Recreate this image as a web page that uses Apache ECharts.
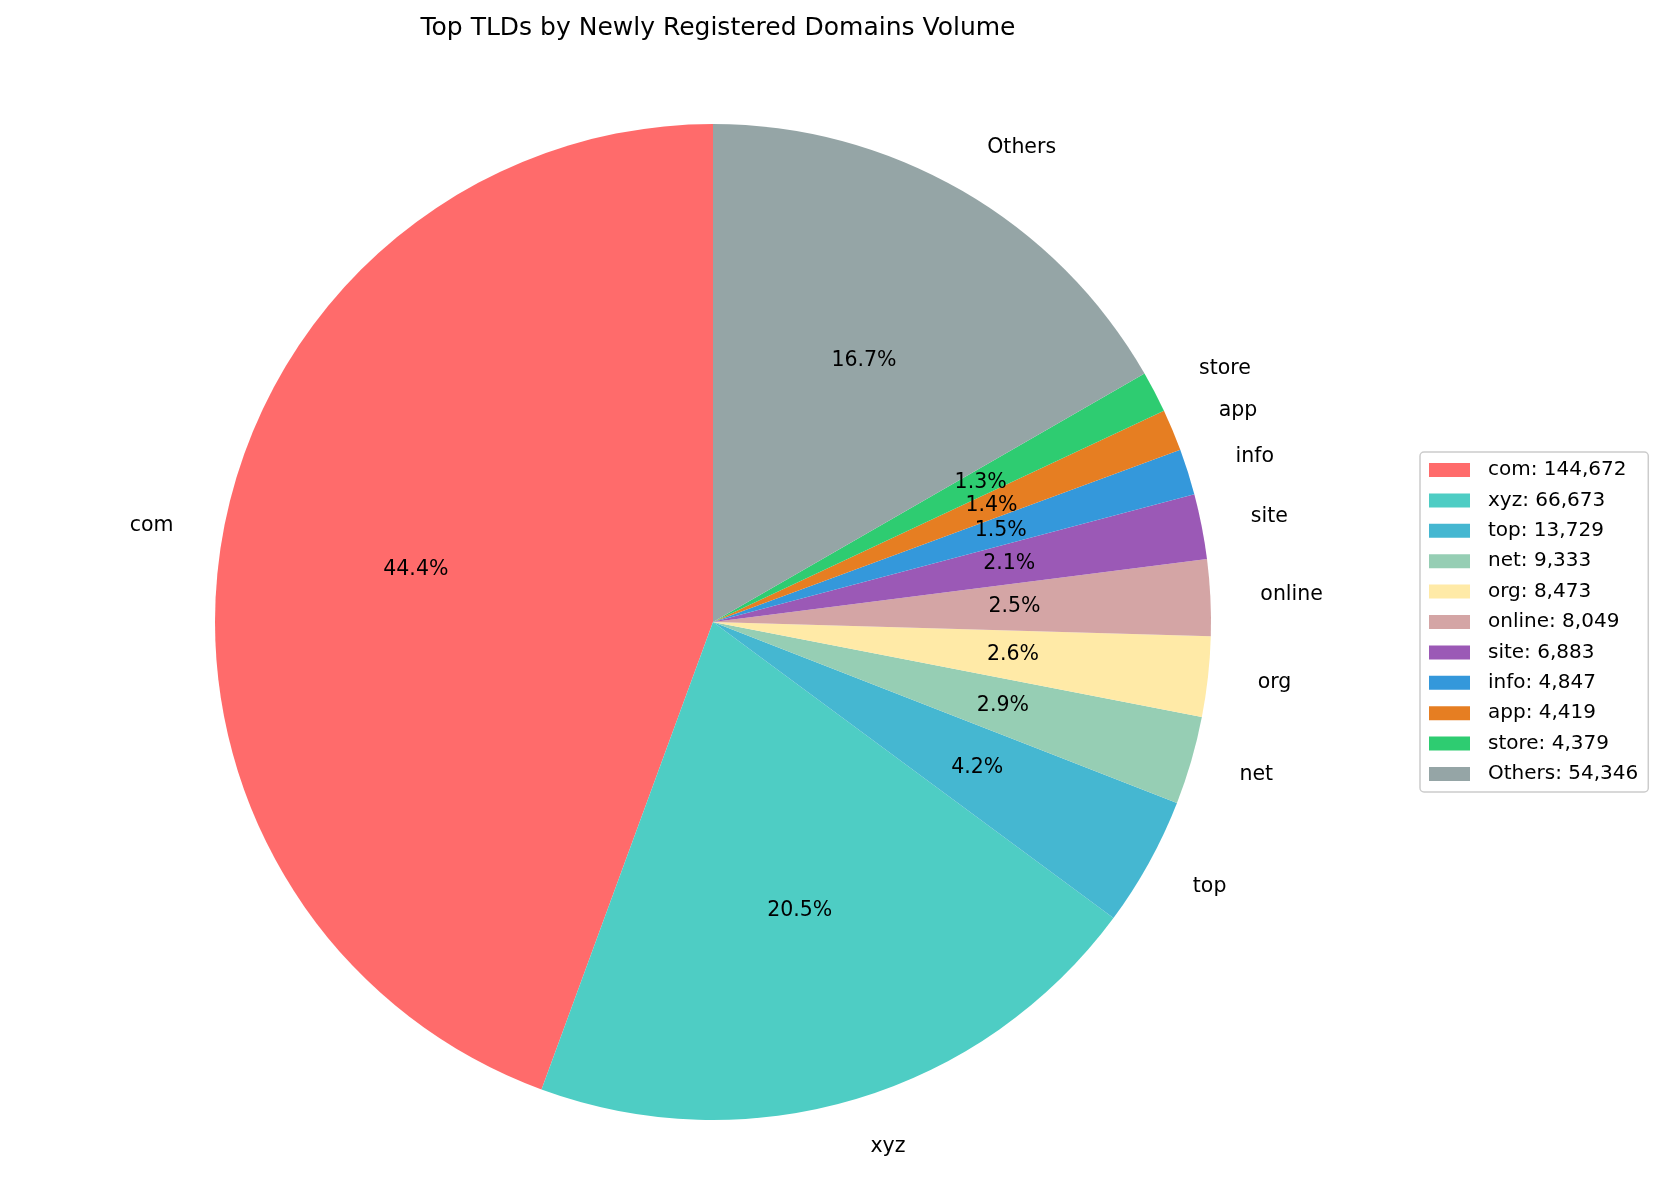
<!DOCTYPE html>
<html><head><meta charset="utf-8">
<script src="https://cdn.jsdelivr.net/npm/echarts@6/dist/echarts.min.js"></script>
<style>html,body{margin:0;padding:0;background:#fff}#c{width:1667px;height:1185px}</style>
</head><body><div id="c"></div>
<script>
const categories = ['com','xyz','top','net','org','online','site','info','app','store','Others'];
const values = [144672,66673,13729,9333,8473,8049,6883,4847,4419,4379,54346];
const colors = ['#FF6B6B','#4ECDC4','#45B7D1','#96CEB4','#FFEAA7','#D4A5A5','#9B59B6','#3498DB','#E67E22','#2ECC71','#95A5A6'];
const R = 498, C = [713, 622];
const data = categories.map((n,i)=>({name:n,value:values[i],itemStyle:{color:colors[i]}}));
const font = 'DejaVu Sans';
const chart = echarts.init(document.getElementById('c'));
chart.setOption({
  animation:false,
  title:{text:'Top TLDs by Newly Registered Domains Volume',left:713,textAlign:'center',top:11,
    textStyle:{fontFamily:font,fontSize:25,fontWeight:'normal',color:'#000'}},
  legend:{orient:'vertical',left:1420,top:452,itemWidth:41,itemHeight:14,itemGap:10.4,
    borderColor:'#ccc',borderWidth:1.5,borderRadius:4,padding:[8,10,8,9],icon:'rect',
    textStyle:{fontFamily:font,fontSize:20,color:'#000',padding:[0,0,0,13]},
    formatter:n=>n+': '+values[categories.indexOf(n)].toLocaleString('en-US')},
  series:[
    {type:'pie',center:C,radius:[0,R],startAngle:90,clockwise:false,avoidLabelOverlap:false,
     data:data,
     label:{show:true,position:'outside',fontFamily:font,fontSize:20.5,color:'#000',distanceToLabelLine:0},
     labelLine:{show:false,length:50,length2:0},emphasis:{disabled:true}},
    {type:'pie',center:C,radius:[0,R*1.2],startAngle:90,clockwise:false,avoidLabelOverlap:false,silent:true,
     legendHoverLink:false,
     data:data.map(d=>({name:d.name,value:d.value,itemStyle:{color:'rgba(0,0,0,0)'}})),
     label:{show:true,position:'inside',fontFamily:font,fontSize:20.5,color:'#000',
       formatter:p=>p.percent.toFixed(1)+'%'},
     labelLine:{show:false},emphasis:{disabled:true},tooltip:{show:false}}
  ]
});
</script></body></html>
